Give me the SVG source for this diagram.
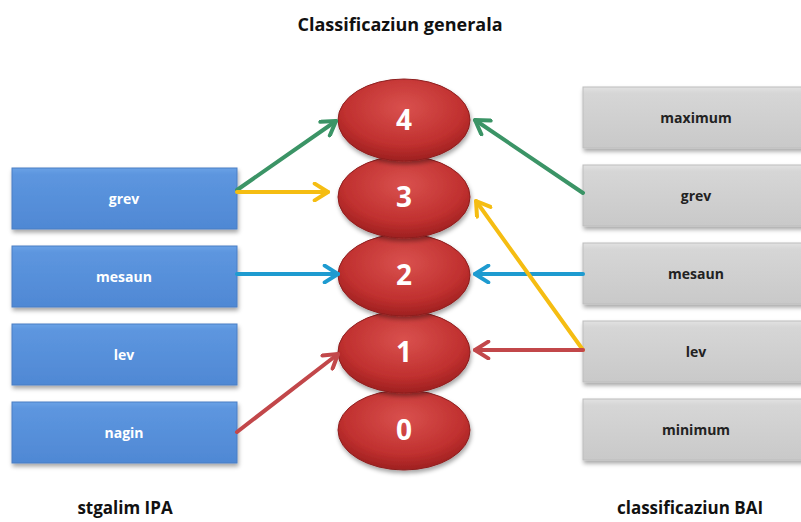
<svg xmlns="http://www.w3.org/2000/svg" width="801" height="522" viewBox="0 0 801 522">
<defs>
<linearGradient id="gBlue" x1="0" y1="0" x2="0" y2="1">
<stop offset="0" stop-color="#6aa2e6"/>
<stop offset="0.1" stop-color="#5d96df"/>
<stop offset="1" stop-color="#4f88d4"/>
</linearGradient>
<linearGradient id="gGray" x1="0" y1="0" x2="0" y2="1">
<stop offset="0" stop-color="#e2e2e2"/>
<stop offset="0.1" stop-color="#d6d6d6"/>
<stop offset="1" stop-color="#c9c9c9"/>
</linearGradient>
<radialGradient id="gRed" cx="0.5" cy="0.35" r="0.65">
<stop offset="0" stop-color="#d9514e"/>
<stop offset="0.7" stop-color="#c0302f"/>
<stop offset="1" stop-color="#9e2020"/>
</radialGradient>
<filter id="sh" x="-10%" y="-10%" width="125%" height="140%">
<feDropShadow dx="1" dy="3" stdDeviation="2" flood-color="#000" flood-opacity="0.35"/>
</filter>
<marker id="aG" viewBox="0 0 12 12" refX="10" refY="6" markerWidth="5" markerHeight="5" orient="auto" markerUnits="strokeWidth"><path d="M2,1 L10,6 L2,11" fill="none" stroke="#3b9466" stroke-width="2.4" stroke-linecap="round" stroke-linejoin="round"/></marker>
<marker id="aY" viewBox="0 0 12 12" refX="10" refY="6" markerWidth="5" markerHeight="5" orient="auto" markerUnits="strokeWidth"><path d="M2,1 L10,6 L2,11" fill="none" stroke="#f5bd12" stroke-width="2.4" stroke-linecap="round" stroke-linejoin="round"/></marker>
<marker id="aB" viewBox="0 0 12 12" refX="10" refY="6" markerWidth="5" markerHeight="5" orient="auto" markerUnits="strokeWidth"><path d="M2,1 L10,6 L2,11" fill="none" stroke="#1e9bd0" stroke-width="2.4" stroke-linecap="round" stroke-linejoin="round"/></marker>
<marker id="aR" viewBox="0 0 12 12" refX="10" refY="6" markerWidth="5" markerHeight="5" orient="auto" markerUnits="strokeWidth"><path d="M2,1 L10,6 L2,11" fill="none" stroke="#c2474a" stroke-width="2.4" stroke-linecap="round" stroke-linejoin="round"/></marker>
</defs>
<style>
.t{font-family:"Open Sans","Liberation Sans",sans-serif;font-weight:bold;text-anchor:middle}
.title{font-size:18px;fill:#111}
.lbl{font-size:17px;fill:#111}
.blue rect{fill:url(#gBlue);stroke:#4a7fc4;stroke-width:1;filter:url(#sh)}
.gray rect{fill:url(#gGray);stroke:#bdbdbd;stroke-width:1;filter:url(#sh)}
.blue text{font-size:14px;fill:#ffffff}
.gray text{font-size:14px;fill:#222}
.ell ellipse{fill:url(#gRed);stroke:#8e1f1f;stroke-width:1;filter:url(#sh)}
.ell text{font-size:28px;fill:#ffffff}
.c line{stroke-width:4;fill:none;stroke-linecap:round}
</style>
<rect width="801" height="522" fill="#ffffff"/>
<text class="t title" x="400" y="31">Classificaziun  generala</text>

<g id="left-grev" class="blue"><rect x="12" y="168" width="225" height="61"/><text class="t" x="124" y="204">grev</text></g>
<g id="left-mesaun" class="blue"><rect x="12" y="246" width="225" height="61"/><text class="t" x="124" y="282">mesaun</text></g>
<g id="left-lev" class="blue"><rect x="12" y="324" width="225" height="61"/><text class="t" x="124" y="360">lev</text></g>
<g id="left-nagin" class="blue"><rect x="12" y="402" width="225" height="61"/><text class="t" x="124" y="438">nagin</text></g>

<g id="right-maximum" class="gray"><rect x="583" y="87" width="225" height="61"/><text class="t" x="696" y="123">maximum</text></g>
<g id="right-grev" class="gray"><rect x="583" y="165" width="225" height="61"/><text class="t" x="696" y="201">grev</text></g>
<g id="right-mesaun" class="gray"><rect x="583" y="243" width="225" height="61"/><text class="t" x="696" y="279">mesaun</text></g>
<g id="right-lev" class="gray"><rect x="583" y="321" width="225" height="61"/><text class="t" x="696" y="357">lev</text></g>
<g id="right-minimum" class="gray"><rect x="583" y="399" width="225" height="61"/><text class="t" x="696" y="435">minimum</text></g>

<g id="level-0" class="ell"><ellipse cx="404" cy="430" rx="66" ry="40"/><text class="t" x="404" y="440">0</text></g>
<g id="level-1" class="ell"><ellipse cx="404" cy="352" rx="66" ry="41"/><text class="t" x="404" y="362">1</text></g>
<g id="level-2" class="ell"><ellipse cx="404" cy="275" rx="66" ry="41"/><text class="t" x="404" y="285">2</text></g>
<g id="level-3" class="ell"><ellipse cx="404" cy="197" rx="66" ry="41"/><text class="t" x="404" y="207">3</text></g>
<g id="level-4" class="ell"><ellipse cx="404" cy="120" rx="66" ry="41"/><text class="t" x="404" y="130">4</text></g>

<g id="connectors" class="c">
<line x1="237" y1="190" x2="336" y2="121" stroke="#3b9466" marker-end="url(#aG)"/>
<line x1="237" y1="192" x2="328" y2="192" stroke="#f5bd12" marker-end="url(#aY)"/>
<line x1="237" y1="274" x2="338" y2="274" stroke="#1e9bd0" marker-end="url(#aB)"/>
<line x1="237" y1="432" x2="338" y2="354" stroke="#c2474a" marker-end="url(#aR)"/>
<line x1="583" y1="193" x2="475" y2="120" stroke="#3b9466" marker-end="url(#aG)"/>
<line x1="583" y1="274" x2="475" y2="274" stroke="#1e9bd0" marker-end="url(#aB)"/>
<line x1="583" y1="350" x2="476" y2="201" stroke="#f5bd12" marker-end="url(#aY)"/>
<line x1="583" y1="350" x2="475" y2="350" stroke="#c2474a" marker-end="url(#aR)"/>
</g>

<text class="t lbl" x="125" y="514">stgalim IPA</text>
<text class="t lbl" x="690" y="514">classificaziun BAI</text>
</svg>
